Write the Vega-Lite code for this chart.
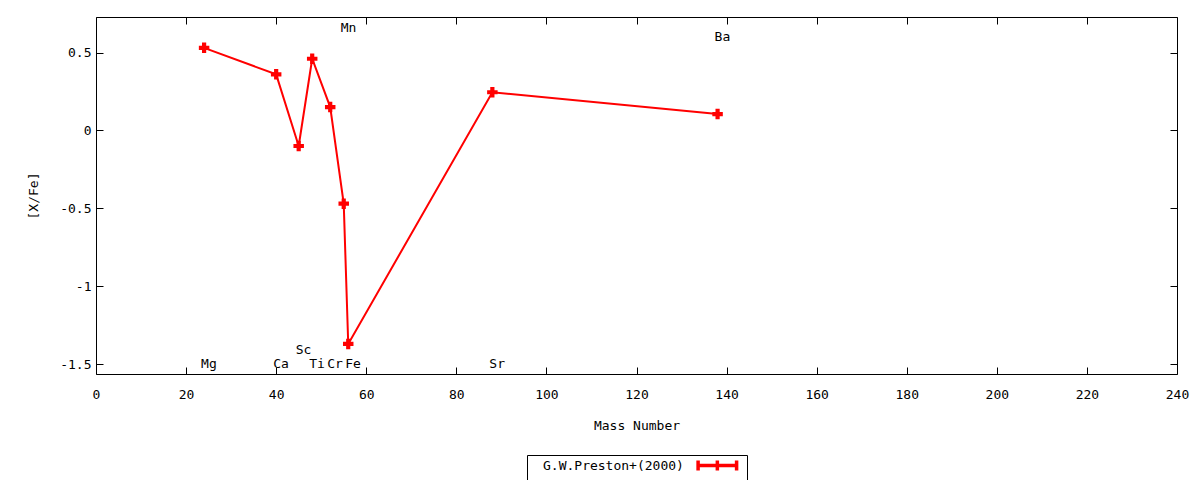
{
  "$schema": "https://vega.github.io/schema/vega-lite/v6.json",
  "description": "[X/Fe] versus mass number, G.W.Preston+(2000)",
  "autosize": "none",
  "padding": {"left": 96, "top": 17, "right": 23, "bottom": 106},
  "width": 1081,
  "height": 357,
  "background": "white",
  "config": {
    "view": {"stroke": "black", "strokeWidth": 1},
    "font": "DejaVu Sans Mono",
    "axis": {
      "grid": false,
      "domain": false,
      "ticks": true,
      "tickColor": "black",
      "tickWidth": 1,
      "tickSize": 7,
      "offset": -7,
      "labelFlush": false,
      "labelFont": "DejaVu Sans Mono",
      "labelFontSize": 13,
      "labelColor": "black",
      "titleFont": "DejaVu Sans Mono",
      "titleFontSize": 13,
      "titleFontWeight": "normal",
      "titleColor": "black"
    },
    "legend": {
      "labelFont": "DejaVu Sans Mono",
      "labelFontSize": 13,
      "labelColor": "black",
      "strokeColor": "black",
      "fillColor": "white",
      "padding": 3,
      "cornerRadius": 0
    }
  },
  "datasets": {
    "abund": [
      {"element": "Mg", "mass": 24, "xfe": 0.53, "source": "G.W.Preston+(2000)"},
      {"element": "Ca", "mass": 40, "xfe": 0.36, "source": "G.W.Preston+(2000)"},
      {"element": "Sc", "mass": 45, "xfe": -0.10, "source": "G.W.Preston+(2000)"},
      {"element": "Ti", "mass": 48, "xfe": 0.46, "source": "G.W.Preston+(2000)"},
      {"element": "Cr", "mass": 52, "xfe": 0.15, "source": "G.W.Preston+(2000)"},
      {"element": "Mn", "mass": 55, "xfe": -0.47, "source": "G.W.Preston+(2000)"},
      {"element": "Fe", "mass": 56, "xfe": -1.37, "source": "G.W.Preston+(2000)"},
      {"element": "Sr", "mass": 88, "xfe": 0.245, "source": "G.W.Preston+(2000)"},
      {"element": "Ba", "mass": 138, "xfe": 0.105, "source": "G.W.Preston+(2000)"}
    ],
    "names": [
      {"element": "Mg", "mass": 24, "ypos": -1.5},
      {"element": "Ca", "mass": 40, "ypos": -1.5},
      {"element": "Sc", "mass": 45, "ypos": -1.41},
      {"element": "Ti", "mass": 48, "ypos": -1.5},
      {"element": "Cr", "mass": 52, "ypos": -1.5},
      {"element": "Mn", "mass": 55, "ypos": 0.66},
      {"element": "Fe", "mass": 56, "ypos": -1.5},
      {"element": "Sr", "mass": 88, "ypos": -1.5},
      {"element": "Ba", "mass": 138, "ypos": 0.6}
    ]
  },
  "layer": [
    {
      "data": {"name": "abund"},
      "mark": {"type": "line", "strokeWidth": 2},
      "encoding": {
        "x": {
          "field": "mass", "type": "quantitative",
          "scale": {"domain": [0, 240], "nice": false, "zero": false},
          "axis": {"values": [0, 20, 40, 60, 80, 100, 120, 140, 160, 180, 200, 220, 240],
                   "format": "d", "labelPadding": 14, "title": "Mass Number", "titlePadding": 18}
        },
        "y": {
          "field": "xfe", "type": "quantitative",
          "scale": {"domain": [-1.563, 0.728], "nice": false, "zero": false},
          "axis": {"values": [-1.5, -1, -0.5, 0, 0.5], "labelExpr": "datum.value + ''",
                   "labelPadding": 5, "title": "[X/Fe]", "titlePadding": 19}
        },
        "color": {
          "field": "source", "type": "nominal",
          "scale": {"range": ["red"]},
          "legend": {
            "title": null,
            "orient": "none",
            "legendX": 431,
            "legendY": 438,
            "symbolType": "M29.2,0H36.2M29.2,-0.9V0.9M36.2,-0.9V0.9M32.7,-0.9V0.9",
            "symbolSize": 121,
            "symbolStrokeWidth": 3.5,
            "symbolStrokeColor": "red",
            "labelOffset": -2
          }
        }
      }
    },
    {
      "data": {"name": "abund"},
      "mark": {"type": "point", "shape": "cross", "filled": true, "size": 110, "color": "red", "opacity": 1},
      "encoding": {
        "x": {"field": "mass", "type": "quantitative",
              "axis": {"orient": "top", "values": [0, 20, 40, 60, 80, 100, 120, 140, 160, 180, 200, 220, 240], "labels": false, "title": null}},
        "y": {"field": "xfe", "type": "quantitative",
              "axis": {"orient": "right", "values": [-1.5, -1, -0.5, 0, 0.5], "labels": false, "title": null}}
      }
    },
    {
      "data": {"name": "names"},
      "mark": {"type": "text", "align": "left", "baseline": "middle", "dx": -3, "fontSize": 13, "color": "black", "font": "DejaVu Sans Mono"},
      "encoding": {
        "x": {"field": "mass", "type": "quantitative", "axis": null},
        "y": {"field": "ypos", "type": "quantitative", "axis": null},
        "text": {"field": "element"}
      }
    }
  ],
  "resolve": {"axis": {"x": "independent", "y": "independent"}}
}
